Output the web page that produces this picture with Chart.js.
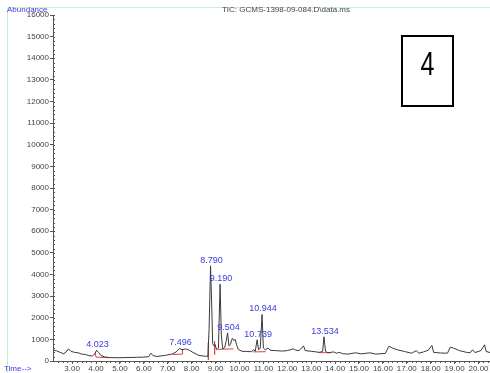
<!DOCTYPE html>
<html lang="en">
<head>
    <meta charset="UTF-8">
    <title>TIC: GCMS-1398-09-084</title>
    <script src="https://cdn.jsdelivr.net/npm/chart.js"></script>
    <style>
        html, body { margin: 0; padding: 0; background: #fff; }
        #wrap { position: relative; width: 490px; height: 373px; }
    </style>
</head>
<body>
    <div id="wrap"><canvas id="tic" width="490" height="373"></canvas></div>
    <script>
        // retention time (min) and abundance of the TIC trace
        const timeMin = [
            2.20, 2.35, 2.50, 2.65, 2.75, 2.85, 2.95, 3.10, 3.25, 3.40, 3.55, 3.70, 3.85, 3.95,
            4.023, 4.10, 4.20, 4.35, 4.55, 4.90, 5.30, 5.70, 6.00, 6.20, 6.30, 6.38, 6.55, 6.90,
            7.20, 7.35, 7.496, 7.60, 7.75, 7.90, 8.05, 8.30, 8.55, 8.68, 8.73, 8.790, 8.84, 8.88,
            8.93, 8.98, 9.04, 9.12, 9.190, 9.24, 9.30, 9.38, 9.44, 9.504, 9.56, 9.62, 9.70, 9.76,
            9.82, 9.88, 9.95, 10.10, 10.30, 10.50, 10.60, 10.66, 10.739, 10.80, 10.87, 10.944, 11.00,
            11.08, 11.20, 11.28, 11.50, 11.80, 12.00, 12.25, 12.35, 12.50, 12.68, 12.75, 13.00,
            13.35, 13.48, 13.534, 13.60, 13.70, 13.95, 14.05, 14.20, 14.30, 14.55, 14.85, 15.10,
            15.45, 15.70, 16.10, 16.25, 16.40, 16.60, 16.90, 17.20, 17.40, 17.50, 17.70, 17.90,
            18.05, 18.12, 18.40, 18.70, 18.82, 18.95, 19.20, 19.50, 19.65, 19.75, 19.85, 20.10,
            20.25, 20.32, 20.48
        ];
        const abundance = [
            500, 470, 400, 330, 420, 560, 450, 400, 380, 320, 300, 250, 230, 330,
            500, 400, 260, 190, 160, 150, 160, 170, 180, 200, 360, 250, 210, 260,
            330, 420, 580, 520, 560, 500, 400, 260, 220, 220, 1500, 4400, 2500, 800,
            700, 760, 520, 600, 3550, 1200, 560, 620, 900, 1300, 700, 760, 1050, 950,
            1000, 750, 540, 450, 440, 430, 520, 450, 980, 520, 600, 2150, 600,
            520, 600, 500, 480, 460, 480, 560, 500, 480, 700, 480, 450,
            400, 450, 1120, 450, 380, 420, 360, 400, 340, 320, 380, 330,
            380, 320, 350, 680, 600, 520, 440, 360, 480, 360, 420, 500,
            720, 400, 370, 360, 640, 600, 480, 400, 380, 520, 390, 480,
            750, 440, 390
        ];

        // integrated peaks: retention time and apex height
        const peakTimes = [4.023, 7.496, 8.790, 9.190, 9.504, 10.739, 10.944, 13.534];
        const peakHeights = [500, 580, 4400, 3550, 1300, 980, 2150, 1120];

        // integration baselines (null breaks the line between peaks)
        const baseTime = [3.96, 4.00, 4.55, null, 7.20, 7.60, 7.62, null, 8.70, 8.70, null, 8.96, 8.96, null, 9.10, 9.75, null, 10.58, 11.10, null, 13.30, 13.80];
        const baseAbund = [380, 180, 150, null, 300, 320, 560, null, 850, 50, null, 900, 300, null, 540, 560, null, 420, 430, null, 390, 380];

        const xTicks = [3, 4, 5, 6, 7, 8, 9, 10, 11, 12, 13, 14, 15, 16, 17, 18, 19, 20];
        const yTicks = [0, 1000, 2000, 3000, 4000, 5000, 6000, 7000, 8000, 9000, 10000, 11000, 12000, 13000, 14000, 15000, 16000];

        const blue = '#3a3ae0';
        const tickFont = { family: 'Liberation Sans, Arial', size: 8 };

        const tracePoints = timeMin.map((t, i) => ({ x: t, y: abundance[i] }));
        const basePoints = baseTime.map((t, i) => ({ x: t, y: baseAbund[i] }));

        // header texts, frame, minor ticks, peak labels and the panel number
        const decorations = {
            id: 'decorations',
            afterDraw(chart) {
                const ctx = chart.ctx;
                const xs = chart.scales.x, ys = chart.scales.y;
                const area = chart.chartArea;
                ctx.save();

                // light green frame
                ctx.strokeStyle = '#c9efc9';
                ctx.lineWidth = 1;
                ctx.beginPath();
                ctx.moveTo(7.5, 373);
                ctx.lineTo(7.5, 7.5);
                ctx.lineTo(490, 7.5);
                ctx.stroke();

                // minor ticks
                ctx.strokeStyle = '#555';
                ctx.beginPath();
                for (let v = 0; v <= 16000; v += 200) {
                    const py = Math.round(ys.getPixelForValue(v)) + 0.5;
                    ctx.moveTo(area.left, py);
                    ctx.lineTo(area.left + 2, py);
                }
                for (let v = 2.4; v <= 20.5; v += 0.2) {
                    const px = Math.round(xs.getPixelForValue(v)) + 0.5;
                    ctx.moveTo(px, area.bottom);
                    ctx.lineTo(px, area.bottom + 2);
                }
                ctx.stroke();

                // header
                ctx.font = '8px Liberation Sans, Arial';
                ctx.textBaseline = 'middle';
                ctx.fillStyle = blue;
                ctx.textAlign = 'left';
                ctx.fillText('Abundance', 7, 10);
                ctx.fillText('Time-->', 4, 369);
                ctx.fillStyle = '#444';
                ctx.textAlign = 'center';
                ctx.fillText('TIC: GCMS-1398-09-084.D\\data.ms', 286, 10);

                // retention time labels over the integrated peaks
                ctx.fillStyle = blue;
                ctx.font = '9px Liberation Sans, Arial';
                ctx.textBaseline = 'bottom';
                peakTimes.forEach((t, i) => {
                    const px = xs.getPixelForValue(t);
                    const py = ys.getPixelForValue(peakHeights[i]);
                    ctx.fillText(t.toFixed(3), px + 1, py - 1);
                });

                // panel number box, digit in a condensed face
                ctx.strokeStyle = '#000';
                ctx.lineWidth = 2;
                ctx.strokeRect(402, 36, 51, 70);
                ctx.fillStyle = '#000';
                ctx.font = '34px Liberation Sans, Arial';
                ctx.textBaseline = 'middle';
                ctx.textAlign = 'center';
                ctx.translate(427.5, 66);
                ctx.scale(0.74, 1);
                ctx.fillText('4', 0, 0);

                ctx.restore();
            }
        };

        new Chart(document.getElementById('tic'), {
            type: 'line',
            data: {
                datasets: [
                    {
                        label: 'TIC',
                        data: tracePoints,
                        borderColor: '#3a3a3a',
                        borderWidth: 1,
                        pointRadius: 0,
                        tension: 0
                    },
                    {
                        label: 'baseline',
                        data: basePoints,
                        borderColor: '#e04040',
                        borderWidth: 1,
                        pointRadius: 0,
                        spanGaps: false
                    }
                ]
            },
            options: {
                responsive: false,
                animation: false,
                layout: { padding: { top: 15, left: 0, right: 0, bottom: 0 } },
                plugins: { legend: { display: false }, tooltip: { enabled: false } },
                scales: {
                    x: {
                        type: 'linear',
                        min: 2.2,
                        max: 20.48,
                        afterBuildTicks: s => { s.ticks = xTicks.map(v => ({ value: v })); },
                        afterFit: s => { s.height = 12; },
                        ticks: {
                            autoSkip: false,
                            maxRotation: 0,
                            padding: 0,
                            font: tickFont,
                            color: '#444',
                            callback: v => v.toFixed(2)
                        },
                        grid: { display: true, drawOnChartArea: false, tickLength: 3, color: '#555' },
                        border: { color: '#555' }
                    },
                    y: {
                        min: 0,
                        max: 16000,
                        afterBuildTicks: s => { s.ticks = yTicks.map(v => ({ value: v })); },
                        afterFit: s => { s.width = 53; },
                        ticks: { padding: 1, font: tickFont, color: '#444', callback: v => String(v) },
                        grid: { display: true, drawOnChartArea: false, tickLength: 3, color: '#555' },
                        border: { color: '#555' }
                    }
                }
            },
            plugins: [decorations]
        });
    </script>
</body>
</html>
